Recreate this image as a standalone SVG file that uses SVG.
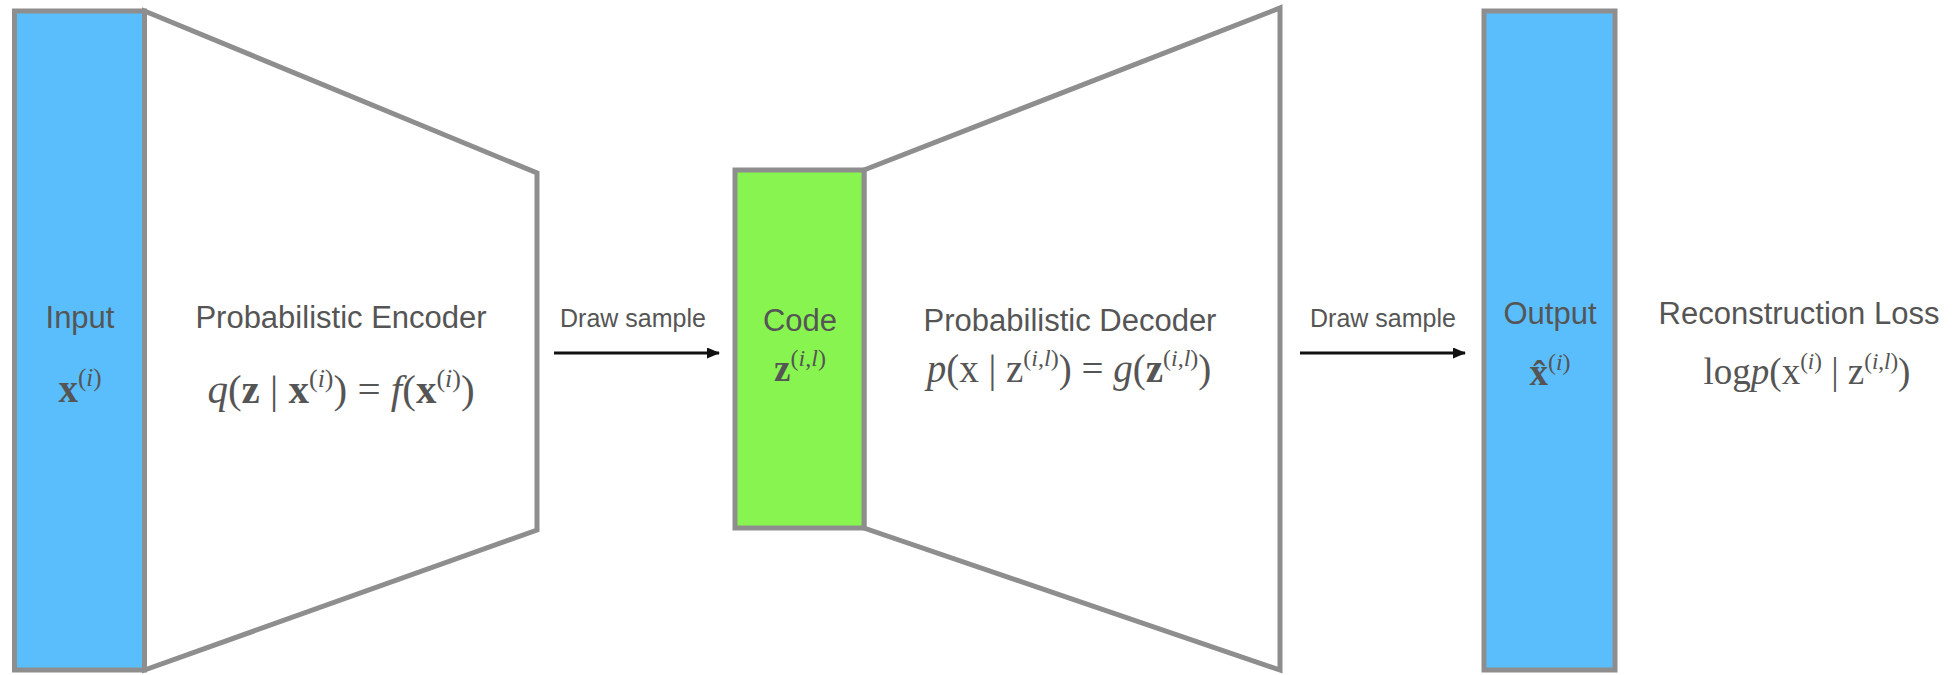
<svg xmlns="http://www.w3.org/2000/svg" width="1956" height="675" viewBox="0 0 1956 675">
<defs>
<style>
.box{stroke:#8e8e8e;stroke-width:5;stroke-linejoin:miter}
.blue{fill:#5abefc}
.green{fill:#88f450}
.trap{fill:#ffffff}
.lbl{font-family:"Liberation Sans",Arial,sans-serif;font-size:31px;fill:#555555;text-anchor:middle}
.ds{font-family:"Liberation Sans",Arial,sans-serif;font-size:25px;fill:#555555;text-anchor:middle}
.f{font-family:"Liberation Serif","Times New Roman",serif;fill:#555555;text-anchor:middle}
.it{font-style:italic}
.b{font-weight:bold}
.conn{stroke:#111111;stroke-width:3;fill:none}
</style>
<marker id="ah" markerWidth="13" markerHeight="11" refX="12" refY="5.5" orient="auto" markerUnits="userSpaceOnUse">
<path d="M0,0 L13,5.5 L0,11 Z" fill="#111111"/>
</marker>
</defs>
<rect width="1956" height="675" fill="#ffffff"/>

<g id="encoder">
<polygon class="box trap" points="144.5,11 537,173 537,530 144.5,670"/>
<text class="lbl" x="341" y="328">Probabilistic Encoder</text>
<text class="f" x="341" y="403" font-size="41"><tspan class="it">q</tspan>(<tspan class="b">z</tspan> | <tspan class="b">x</tspan><tspan font-size="26" dy="-16">(<tspan class="it">i</tspan>)</tspan><tspan dy="16">) = </tspan><tspan class="it">f</tspan>(<tspan class="b">x</tspan><tspan font-size="26" dy="-16">(<tspan class="it">i</tspan>)</tspan><tspan dy="16">)</tspan></text>
</g>

<g id="decoder">
<polygon class="box trap" points="864,170 1280,8 1280,670 864,528"/>
<text class="lbl" x="1070" y="331">Probabilistic Decoder</text>
<text class="f" x="1069" y="382" font-size="39"><tspan class="it">p</tspan>(x | z<tspan font-size="24" dy="-16">(<tspan class="it">i</tspan>,<tspan class="it">l</tspan>)</tspan><tspan dy="16">) = </tspan><tspan class="it">g</tspan>(<tspan class="b">z</tspan><tspan font-size="24" dy="-16">(<tspan class="it">i</tspan>,<tspan class="it">l</tspan>)</tspan><tspan dy="16">)</tspan></text>
</g>

<g id="input">
<rect class="box blue" x="14.5" y="11" width="130" height="659"/>
<text class="lbl" x="80" y="328">Input</text>
<text class="f" x="80" y="402" font-size="39"><tspan class="b">x</tspan><tspan font-size="25" dy="-16">(<tspan class="it">i</tspan>)</tspan></text>
</g>

<g id="code">
<rect class="box green" x="735" y="170" width="129" height="358"/>
<text class="lbl" x="800" y="331">Code</text>
<text class="f" x="800" y="381" font-size="37"><tspan class="b">z</tspan><tspan font-size="24" dy="-15">(<tspan class="it">i</tspan>,<tspan class="it">l</tspan>)</tspan></text>
</g>

<g id="output">
<rect class="box blue" x="1484" y="11" width="131" height="659"/>
<text class="lbl" x="1550" y="324">Output</text>
<text class="f" x="1550" y="385" font-size="37"><tspan class="b">x̂</tspan><tspan font-size="24" dy="-15">(<tspan class="it">i</tspan>)</tspan></text>
</g>

<g id="loss">
<text class="lbl" x="1799" y="324">Reconstruction Loss</text>
<text class="f" x="1807" y="384" font-size="37">log<tspan class="it">p</tspan>(x<tspan font-size="23" dy="-15">(<tspan class="it">i</tspan>)</tspan><tspan dy="15"> | z</tspan><tspan font-size="23" dy="-15">(<tspan class="it">i</tspan>,<tspan class="it">l</tspan>)</tspan><tspan dy="15">)</tspan></text>
</g>

<g id="connectors">
<line class="conn" x1="554" y1="353" x2="719" y2="353" marker-end="url(#ah)"/>
<text class="ds" x="633" y="327">Draw sample</text>
<line class="conn" x1="1300" y1="353" x2="1465" y2="353" marker-end="url(#ah)"/>
<text class="ds" x="1383" y="327">Draw sample</text>
</g>
</svg>
